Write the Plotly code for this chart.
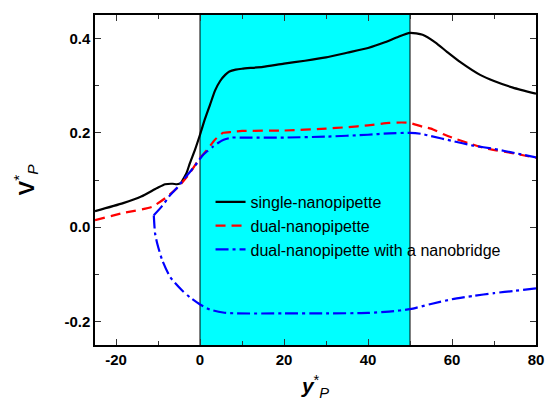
import plotly.graph_objects as go

# single-nanopipette
single_x = [-25, -18.3, -14, -10.2, -8.3, -6.5, -5.5, -4.5, -4, -3.2, -2.4, -1.2, 0, 1.2, 2.4, 3.6, 4.8, 6, 7, 8.5, 10, 15, 20, 25, 30, 35, 40, 44, 47, 50, 53, 56, 58.8, 62, 66.7, 70, 74.5, 80]
single_y = [0.034, 0.051, 0.065, 0.083, 0.091, 0.092, 0.091, 0.094, 0.102, 0.115, 0.136, 0.164, 0.196, 0.23, 0.26, 0.29, 0.31, 0.323, 0.33, 0.334, 0.336, 0.34, 0.347, 0.353, 0.36, 0.37, 0.38, 0.392, 0.403, 0.412, 0.408, 0.392, 0.372, 0.35, 0.323, 0.31, 0.296, 0.283]

# dual-nanopipette
dual_x = [-25, -18.3, -11.4, -7.9, -5.2, -2.4, 0, 1.9, 3.5, 5.5, 7.6, 10, 20, 30, 35, 40, 45, 48, 50, 53, 55, 58, 60, 64, 68, 75, 80]
dual_y = [0.015, 0.030, 0.043, 0.064, 0.085, 0.115, 0.147, 0.166, 0.185, 0.2, 0.202, 0.204, 0.205, 0.209, 0.212, 0.216, 0.221, 0.222, 0.221, 0.213, 0.209, 0.197, 0.19, 0.178, 0.167, 0.156, 0.147]

# dual-nanopipette with a nanobridge (upper branch)
bridge_up_x = [-11, -9, -7.1, -5.5, -4, -2.4, -0.7, 0.5, 1.7, 3, 4.2, 5.5, 7.6, 10, 20, 30, 40, 45, 50, 52.6, 55, 60, 65, 70, 75, 80]
bridge_up_y = [0.025, 0.045, 0.068, 0.083, 0.10, 0.117, 0.136, 0.151, 0.161, 0.17, 0.178, 0.185, 0.19, 0.19, 0.19, 0.192, 0.196, 0.199, 0.2, 0.198, 0.193, 0.183, 0.173, 0.166, 0.157, 0.148]

# dual-nanopipette with a nanobridge (lower branch)
bridge_lo_x = [-11, -10.7, -10.2, -9, -7.1, -4.3, -2.4, 0, 2.4, 5.5, 8.8, 20, 30, 40, 45, 50, 55, 60, 65, 70, 75, 80]
bridge_lo_y = [0.025, -0.013, -0.034, -0.070, -0.106, -0.134, -0.149, -0.164, -0.175, -0.181, -0.183, -0.183, -0.183, -0.182, -0.179, -0.174, -0.163, -0.153, -0.146, -0.14, -0.135, -0.13]

region = [0, 50]
x_ticks = [-20, 0, 20, 40, 60, 80]
x_tick_labels = ["-20", "0", "20", "40", "60", "80"]
y_ticks = [-0.2, 0.0, 0.2, 0.4]
y_tick_labels = ["-0.2", "0.0", "0.2", "0.4"]

fig = go.Figure()

fig.add_shape(type="rect", xref="x", yref="paper", x0=region[0], x1=region[1], y0=0, y1=1,
              fillcolor="#00FFFF", line=dict(width=0), layer="below")
for xv in region:
    fig.add_shape(type="line", xref="x", yref="paper", x0=xv, x1=xv, y0=0, y1=1,
                  line=dict(color="black", width=1), layer="below")

fig.add_trace(go.Scatter(x=single_x, y=single_y, mode="lines", name="single-nanopipette",
                         line=dict(color="black", width=2.2, shape="spline", smoothing=0.6)))
fig.add_trace(go.Scatter(x=dual_x, y=dual_y, mode="lines", name="dual-nanopipette",
                         line=dict(color="#FF0000", width=2.2, dash="10px,6px", shape="spline", smoothing=0.5)))
fig.add_trace(go.Scatter(x=bridge_up_x, y=bridge_up_y, mode="lines",
                         name="dual-nanopipette with a nanobridge", legendgroup="b",
                         line=dict(color="#0000FF", width=2.2, dash="13px,4px,3px,4px", shape="spline", smoothing=0.5)))
fig.add_trace(go.Scatter(x=bridge_lo_x, y=bridge_lo_y, mode="lines", showlegend=False, legendgroup="b",
                         line=dict(color="#0000FF", width=2.2, dash="13px,4px,3px,4px", shape="spline", smoothing=0.6)))

axis_common = dict(showline=True, linecolor="black", linewidth=1.5, mirror="ticks",
                   ticks="inside", ticklen=6, tickwidth=1.2, tickcolor="#333",
                   showgrid=False, zeroline=False, automargin=False,
                   tickfont=dict(family="Arial", size=15, color="black", weight="bold"))

fig.update_xaxes(range=[-25, 80], tickvals=x_ticks, ticktext=x_tick_labels,
                 minor=dict(tickvals=[-10, 10, 30, 50, 70], ticks="inside", ticklen=4, tickcolor="#333"),
                 title=dict(text="<b><i>y</i></b><sup>*</sup><sub><i>P</i></sub>",
                            font=dict(family="Arial", size=21, color="black"), standoff=12),
                 **axis_common)
fig.update_yaxes(range=[-0.25, 0.45], tickvals=y_ticks, ticktext=y_tick_labels,
                 minor=dict(tickvals=[-0.1, 0.1, 0.3], ticks="inside", ticklen=4, tickcolor="#333"),
                 title=dict(text="<b>V</b><sup>*</sup><sub><i>P</i></sub>",
                            font=dict(family="Arial", size=22, color="black"), standoff=24),
                 **axis_common)

fig.update_layout(
    width=546, height=405,
    margin=dict(l=95, r=10, t=15, b=60),
    plot_bgcolor="white", paper_bgcolor="white",
    legend=dict(x=0.262, y=0.485, xanchor="left", yanchor="top",
                bgcolor="rgba(0,0,0,0)", font=dict(family="Arial", size=16, color="black"),
                tracegroupgap=0, itemwidth=30),
)

fig.write_html("out.html", config={"displayModeBar": False},
               post_script="document.body.style.margin='0';document.body.style.overflow='hidden';")
